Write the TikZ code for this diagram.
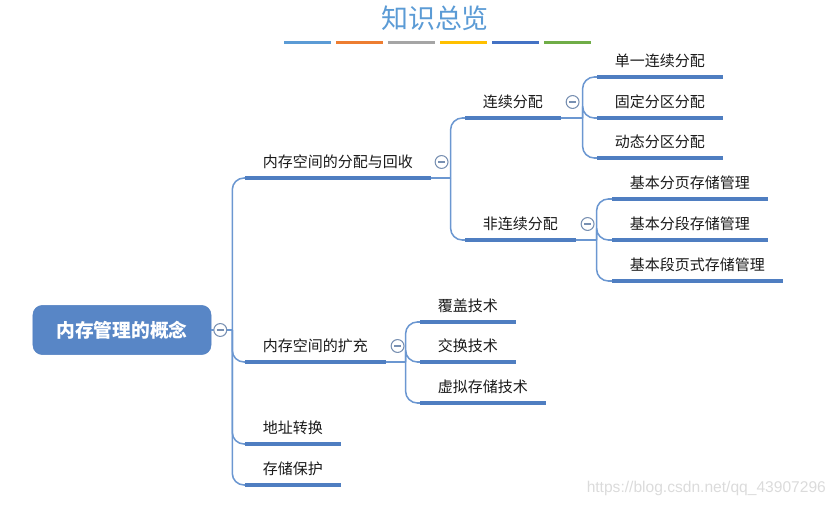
\documentclass[tikz,border=0pt]{standalone}
\usepackage{fontspec}
\setmainfont{Noto Sans CJK SC}
\newfontfamily\urlfont{Liberation Sans}
\usetikzlibrary{calc}

\definecolor{mapblue}{HTML}{4F7EC1}
\definecolor{linkblue}{HTML}{6B97D1}
\definecolor{rootblue}{HTML}{5886C6}
\definecolor{titleblue}{HTML}{5B9BD5}
\definecolor{foldgray}{HTML}{7890B2}
\definecolor{barA}{HTML}{5B9BD5}
\definecolor{barB}{HTML}{ED7D31}
\definecolor{barC}{HTML}{A5A5A5}
\definecolor{barD}{HTML}{FFC000}
\definecolor{barE}{HTML}{4472C4}
\definecolor{barF}{HTML}{70AD47}

\tikzset{
    topic/.style={anchor=south west, inner xsep=15pt, inner ysep=8pt,
        font=\fontsize{12.8}{14}\selectfont, text=black!90},
    root/.style={rounded corners=8pt, fill=rootblue, draw=mapblue,
        minimum width=152pt, minimum height=42pt, text=white,
        font=\fontsize{16}{18}\selectfont\bfseries},
    conn/.style={linkblue, line width=1.3pt, rounded corners=10pt},
    uline/.style={mapblue, line width=3.4pt},
    fold/.style={circle, draw=foldgray, fill=white, line width=0.9pt,
        minimum size=11pt, inner sep=0pt,
        path picture={\draw[foldgray, line width=0.9pt]
            ([xshift=-2.8pt]path picture bounding box.center) --
            ([xshift=2.8pt]path picture bounding box.center);}},
}

\begin{document}
\begin{tikzpicture}[x=0.03cm, y=-0.03cm]
    \useasboundingbox (0,0) rectangle (839,507);

    % title and colour bars
    \node[text=titleblue, font=\fontsize{23}{25}\selectfont] (title) at (435,18) {知识总览};
    \foreach \c [count=\i from 0] in {barA,barB,barC,barD,barE,barF}
        \fill[\c] (284+52*\i,41) rectangle ++(47,3.5);

    % root
    \node[root] (root) at (122,330) {内存管理的概念};

    % first level
    \node[topic] (alloc) at (245,178) {内存空间的分配与回收};
    \node[topic] (expand) at (245,362) {内存空间的扩充};
    \node[topic] (addr) at (245,444) {地址转换};
    \node[topic] (protect) at (245,485) {存储保护};

    % second level
    \node[topic] (contig) at (465,118) {连续分配};
    \node[topic] (noncontig) at (465,240) {非连续分配};
    \node[topic] (overlay) at (420,322) {覆盖技术};
    \node[topic] (swap) at (420,362) {交换技术};
    \node[topic] (virtual) at (420,403) {虚拟存储技术};

    % third level
    \node[topic] (single) at (597,77) {单一连续分配};
    \node[topic] (fixed) at (597,118) {固定分区分配};
    \node[topic] (dynamic) at (597,158) {动态分区分配};
    \node[topic] (paging) at (612,199) {基本分页存储管理};
    \node[topic] (segment) at (612,240) {基本分段存储管理};
    \node[topic] (segpage) at (612,281) {基本段页式存储管理};

    % connectors
    \draw[conn] (root.east) -- ++(21,0) coordinate (trunk);
    \foreach \n in {alloc,expand,addr,protect}
        \draw[conn] (trunk) |- (\n.south west);
    \draw[conn] (alloc.south east) -- ++(20,0) coordinate (jalloc);
    \foreach \n in {contig,noncontig}
        \draw[conn] (jalloc) |- (\n.south west);
    \draw[conn] (contig.south east) -- ++(22,0) coordinate (jcontig);
    \foreach \n in {single,fixed,dynamic}
        \draw[conn] (jcontig) |- (\n.south west);
    \draw[conn] (noncontig.south east) -- ++(21,0) coordinate (jnon);
    \foreach \n in {paging,segment,segpage}
        \draw[conn] (jnon) |- (\n.south west);
    \draw[conn] (expand.south east) -- ++(20,0) coordinate (jexpand);
    \foreach \n in {overlay,swap,virtual}
        \draw[conn] (jexpand) |- (\n.south west);

    % underlines
    \foreach \n in {alloc,expand,addr,protect,contig,noncontig,overlay,swap,virtual,
                    single,fixed,dynamic,paging,segment,segpage}
        \draw[uline] (\n.south west) -- (\n.south east);

    % fold markers
    \node[fold] (f0) at ($(root.east)+(9,0)$) {};
    \node[fold] (f1) at ($(alloc.south east)+(11,-16)$) {};
    \node[fold] (f2) at ($(contig.south east)+(12,-16)$) {};
    \node[fold] (f3) at ($(noncontig.south east)+(12,-16)$) {};
    \node[fold] (f4) at ($(expand.south east)+(12,-16)$) {};

    % watermark
    \node[anchor=east, text=black!14, font=\urlfont\fontsize{13.3}{15}\selectfont] (mark) at (830,488) {https://blog.csdn.net/qq\_43907296};
\end{tikzpicture}
\end{document}
